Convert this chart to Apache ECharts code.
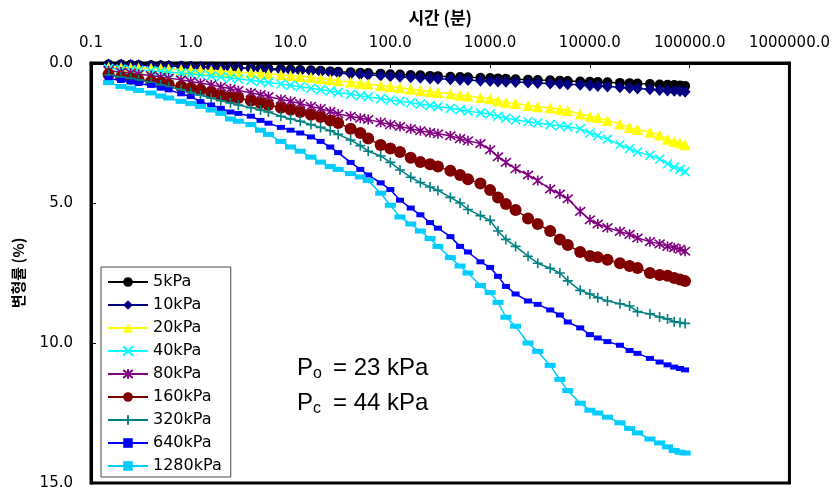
<!DOCTYPE html>
<html>
<head>
<meta charset="utf-8">
<script src="https://cdn.jsdelivr.net/npm/echarts@6/dist/echarts.min.js"></script>
<style>
html,body{margin:0;padding:0;background:#fff;}
#chart{width:833px;height:494px;}
</style>
</head>
<body>
<div id="chart"></div>
<script>
// time (minutes)
const times = [0.15,0.2,0.25,0.3,0.4,0.5,0.6,0.8,
  1,1.25,1.6,2,2.5,3,4,5,6,8,
  10,12.5,16,20,25,30,40,50,60,80,
  100,125,160,200,250,300,400,500,600,800,
  1000,1200,1440,1800,2400,3000,4000,5000,6000,8000,
  10000,12000,15000,20000,25000,30000,40000,50000,60000,70000,80000,90000];

const s5 = [0.05,0.05,0.06,0.07,0.08,0.09,0.10,0.11,
  0.12,0.13,0.14,0.15,0.16,0.17,0.18,0.19,0.20,0.22,
  0.23,0.25,0.26,0.28,0.30,0.31,0.33,0.35,0.36,0.38,
  0.40,0.41,0.43,0.44,0.46,0.47,0.49,0.50,0.51,0.53,
  0.54,0.55,0.56,0.58,0.60,0.61,0.62,0.63,0.64,0.66,
  0.67,0.68,0.69,0.71,0.72,0.73,0.75,0.77,0.78,0.79,0.80,0.82];
const s10 = [0.05,0.06,0.07,0.08,0.09,0.10,0.11,0.12,
  0.13,0.14,0.15,0.17,0.18,0.19,0.20,0.22,0.23,0.25,
  0.27,0.29,0.30,0.32,0.34,0.36,0.39,0.41,0.43,0.45,
  0.47,0.49,0.51,0.53,0.55,0.56,0.58,0.60,0.61,0.63,
  0.64,0.66,0.67,0.68,0.70,0.71,0.73,0.74,0.76,0.78,
  0.80,0.82,0.84,0.87,0.89,0.91,0.94,0.96,0.98,0.99,1.00,1.03];
const s20 = [0.15,0.16,0.17,0.18,0.19,0.20,0.21,0.23,
  0.24,0.26,0.27,0.29,0.31,0.33,0.35,0.37,0.39,0.42,
  0.45,0.48,0.51,0.55,0.59,0.63,0.68,0.72,0.75,0.80,
  0.84,0.88,0.93,0.98,1.02,1.05,1.10,1.15,1.18,1.23,
  1.28,1.35,1.40,1.45,1.52,1.56,1.60,1.65,1.70,1.82,
  1.90,1.95,2.05,2.18,2.30,2.37,2.47,2.57,2.72,2.80,2.85,2.92];
const s40 = [0.20,0.22,0.24,0.26,0.28,0.30,0.32,0.36,
  0.39,0.43,0.46,0.50,0.54,0.57,0.62,0.66,0.70,0.75,
  0.80,0.85,0.90,0.95,1.00,1.05,1.12,1.17,1.21,1.27,
  1.32,1.37,1.42,1.47,1.52,1.56,1.62,1.67,1.72,1.78,
  1.82,1.90,1.97,2.03,2.10,2.14,2.20,2.25,2.28,2.35,
  2.50,2.60,2.72,2.92,3.06,3.18,3.30,3.43,3.60,3.72,3.80,3.88];
const s80 = [0.28,0.32,0.36,0.40,0.45,0.50,0.54,0.60,
  0.66,0.72,0.78,0.85,0.92,0.98,1.06,1.13,1.20,1.30,
  1.37,1.45,1.55,1.63,1.73,1.82,1.90,1.97,2.02,2.12,
  2.20,2.27,2.35,2.42,2.48,2.53,2.60,2.70,2.78,2.88,
  3.10,3.35,3.55,3.78,4.00,4.20,4.50,4.68,4.85,5.30,
  5.60,5.75,5.88,6.02,6.12,6.25,6.38,6.46,6.55,6.60,6.65,6.72];
const s160 = [0.40,0.50,0.55,0.60,0.65,0.70,0.77,0.85,
  0.90,0.96,1.05,1.15,1.22,1.25,1.35,1.43,1.50,1.60,
  1.67,1.75,1.85,1.93,2.05,2.14,2.35,2.50,2.70,2.93,
  3.05,3.18,3.38,3.54,3.62,3.70,3.85,4.00,4.15,4.30,
  4.54,4.80,5.04,5.25,5.55,5.75,6.00,6.30,6.50,6.75,
  6.89,6.94,7.03,7.15,7.25,7.32,7.50,7.57,7.60,7.68,7.73,7.79];
const s320 = [0.43,0.50,0.55,0.60,0.70,0.78,0.85,0.95,
  1.05,1.15,1.25,1.35,1.43,1.50,1.60,1.68,1.75,1.90,
  2.00,2.08,2.20,2.30,2.42,2.55,2.75,2.95,3.15,3.32,
  3.55,3.82,4.08,4.27,4.43,4.55,4.80,5.00,5.23,5.45,
  5.62,6.00,6.30,6.55,6.90,7.15,7.33,7.50,7.78,8.12,
  8.25,8.38,8.50,8.60,8.68,8.88,8.96,9.07,9.14,9.24,9.27,9.30];
const s640 = [0.55,0.62,0.68,0.73,0.80,0.90,0.96,1.10,
  1.20,1.38,1.50,1.62,1.75,1.80,1.90,2.05,2.15,2.30,
  2.40,2.50,2.64,2.80,3.00,3.20,3.55,3.80,4.00,4.28,
  4.52,4.90,5.18,5.42,5.70,5.90,6.20,6.55,6.75,7.10,
  7.30,7.62,7.98,8.25,8.50,8.62,8.82,9.00,9.25,9.46,
  9.70,9.82,9.95,10.08,10.27,10.37,10.55,10.68,10.78,10.86,10.91,10.96];
const s1280 = [0.70,0.84,0.90,0.98,1.07,1.18,1.25,1.37,
  1.45,1.55,1.68,1.80,2.00,2.08,2.20,2.40,2.55,2.80,
  3.00,3.15,3.36,3.54,3.70,3.80,3.95,4.07,4.20,4.65,
  5.08,5.50,5.75,6.00,6.27,6.55,6.95,7.25,7.50,7.95,
  8.20,8.55,9.08,9.40,10.00,10.30,10.80,11.30,11.70,12.15,
  12.40,12.50,12.65,12.85,13.05,13.21,13.43,13.57,13.71,13.84,13.90,13.93];

const seriesNames = ['5kPa','10kPa','20kPa','40kPa','80kPa','160kPa','320kPa','640kPa','1280kPa'];
const seriesValues = [s5,s10,s20,s40,s80,s160,s320,s640,s1280];
const xTicks = [0.1,1,10,100,1000,10000,100000,1000000];
const yTicks = [0,5,10,15];

const styles = [
  {color:'#000000', symbol:'circle', size:10},
  {color:'#000080', symbol:'diamond', size:[11,12]},
  {color:'#FFFF00', symbol:'triangle', size:11},
  {color:'#00FFFF', symbol:'path://M0,0L10,10M10,0L0,10', size:9, stroke:true},
  {color:'#800080', symbol:'path://M0,0L10,10M10,0L0,10M5,-1L5,11', size:10, stroke:true},
  {color:'#800000', symbol:'circle', size:12},
  {color:'#008080', symbol:'path://M5,0L5,10M0,5L10,5', size:10, stroke:true},
  {color:'#0000FF', symbol:'rect', size:[8,5]},
  {color:'#00CCFF', symbol:'rect', size:[11,5]}
];

const series = seriesNames.map((name, i) => {
  const st = styles[i];
  return {
    name: name,
    type: 'line',
    data: times.map((t, k) => [t, seriesValues[i][k]]),
    symbol: st.symbol,
    symbolSize: st.size,
    showAllSymbol: true,
    lineStyle: {color: st.color, width: 1.5},
    itemStyle: st.stroke
      ? {color: st.color, borderColor: st.color, borderWidth: 1.6, opacity: 1}
      : {color: st.color, borderWidth: 0, opacity: 1},
    emphasis: {disabled: true},
    z: 2 + i
  };
});

const chart = echarts.init(document.getElementById('chart'), null, {renderer:'canvas'});
const lblFont = 'DejaVu Sans';
chart.setOption({
  animation: false,
  backgroundColor: '#ffffff',
  grid: {left: 91, top: 63, right: 41, bottom: 11, show: true, borderColor: '#000', borderWidth: 3, backgroundColor: 'transparent'},
  legend: {
    orient: 'vertical',
    left: 101, top: 267,
    data: seriesNames,
    backgroundColor: '#ffffff',
    borderColor: '#444',
    borderWidth: 1,
    padding: [7, 9, 3, 6],
    itemWidth: 40,
    itemHeight: 12,
    itemGap: 7,
    textStyle: {fontFamily: lblFont, fontSize: 16, color: '#000', lineHeight: 16},
    selectedMode: false
  },
  xAxis: {
    type: 'log', logBase: 10, position: 'top',
    min: xTicks[0], max: xTicks[xTicks.length - 1],
    name: '시간 (분)', nameLocation: 'middle', nameGap: 37,
    nameTextStyle: {fontFamily: 'Noto Sans CJK KR', fontWeight: 'bold', fontSize: 17, color: '#000'},
    axisLine: {lineStyle: {color: '#000', width: 3}},
    axisTick: {inside: true, length: 5, lineStyle: {color: '#000', width: 1}},
    axisLabel: {fontFamily: lblFont, fontSize: 15, color: '#000', margin: 12,
      formatter: v => Number(v).toFixed(1)},
    splitLine: {show: false},
    minorTick: {show: false}
  },
  yAxis: {
    type: 'value', inverse: true,
    min: yTicks[0], max: yTicks[yTicks.length - 1], interval: 5,
    name: '변형률 (%)', nameLocation: 'middle', nameGap: 65, nameRotate: 90,
    nameTextStyle: {fontFamily: 'Noto Sans CJK KR', fontWeight: 'bold', fontSize: 15, color: '#000'},
    axisLine: {lineStyle: {color: '#000', width: 3}},
    axisTick: {inside: true, length: 5, lineStyle: {color: '#000', width: 1}},
    axisLabel: {fontFamily: lblFont, fontSize: 15, color: '#000', margin: 18,
      formatter: v => Number(v).toFixed(1)},
    splitLine: {show: false}
  },
  graphic: [
    {type: 'text', left: 297, top: 356, style: {text: 'P', fontFamily: 'Liberation Sans', fontSize: 24, fill: '#000'}},
    {type: 'text', left: 313, top: 366, style: {text: 'o', fontFamily: 'Liberation Sans', fontSize: 16, fill: '#000'}},
    {type: 'text', left: 333, top: 356, style: {text: '= 23 kPa', fontFamily: 'Liberation Sans', fontSize: 24, fill: '#000'}},
    {type: 'text', left: 297, top: 391, style: {text: 'P', fontFamily: 'Liberation Sans', fontSize: 24, fill: '#000'}},
    {type: 'text', left: 313, top: 401, style: {text: 'c', fontFamily: 'Liberation Sans', fontSize: 16, fill: '#000'}},
    {type: 'text', left: 333, top: 391, style: {text: '= 44 kPa', fontFamily: 'Liberation Sans', fontSize: 24, fill: '#000'}}
  ],
  series: series
});
</script>
</body>
</html>
